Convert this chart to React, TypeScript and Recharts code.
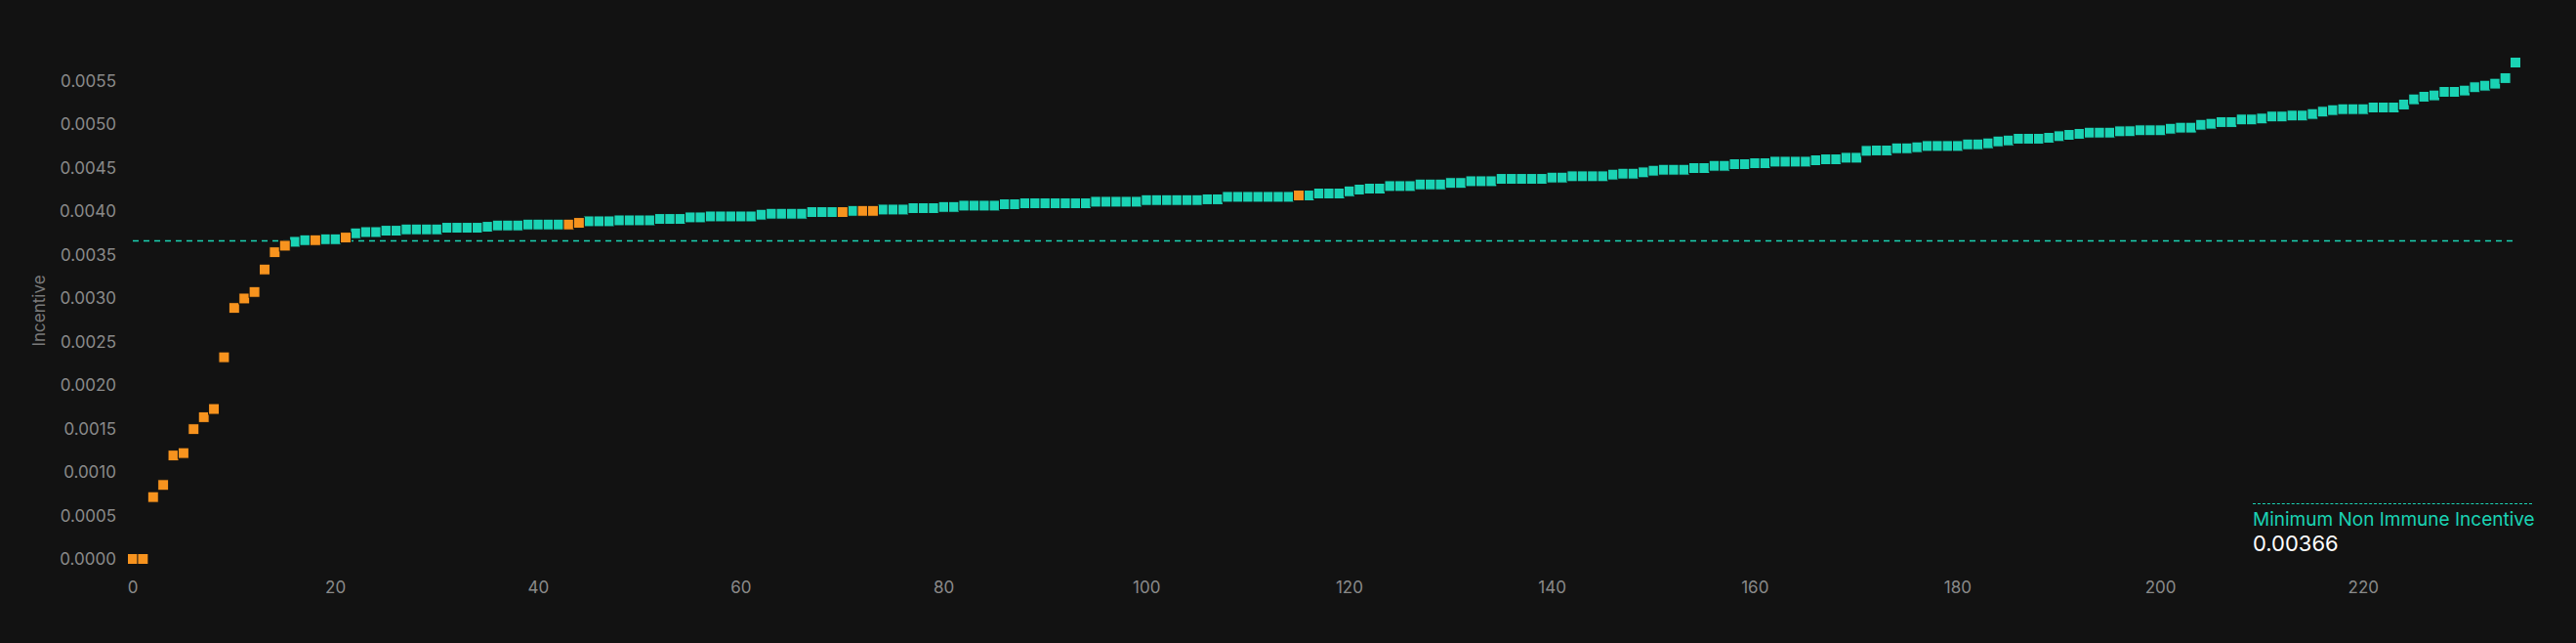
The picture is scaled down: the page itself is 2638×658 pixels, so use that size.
import React from 'react';
import { ScatterChart, Scatter, XAxis, YAxis, ReferenceLine } from 'recharts';

// incentive per validator, sorted ascending
const incentives = [
  0, 0, 0.000712, 0.000851, 0.00119, 0.001218, 0.001493, 0.001631, 0.001725, 0.00232,
  0.002887, 0.002996, 0.003071, 0.00333, 0.003528, 0.003603, 0.003648, 0.003667, 0.003667, 0.003678,
  0.003678, 0.003697, 0.003746, 0.00376, 0.00376, 0.003776, 0.003776, 0.003791, 0.003791, 0.003791,
  0.003791, 0.00381, 0.00381, 0.00381, 0.00381, 0.003821, 0.003836, 0.003836, 0.003836, 0.003847,
  0.003847, 0.003847, 0.003847, 0.003847, 0.003866, 0.003884, 0.003884, 0.003884, 0.003895, 0.003895,
  0.003895, 0.003895, 0.003911, 0.003911, 0.003911, 0.003929, 0.003929, 0.00394, 0.00394, 0.00394,
  0.00394, 0.00394, 0.00396, 0.003971, 0.003971, 0.003971, 0.003971, 0.00399, 0.00399, 0.00399,
  0.00399, 0.004004, 0.004004, 0.004004, 0.004019, 0.004019, 0.004019, 0.004035, 0.004035, 0.004035,
  0.004049, 0.004049, 0.004064, 0.004064, 0.004064, 0.004064, 0.00408, 0.00408, 0.004091, 0.004091,
  0.004091, 0.004091, 0.004091, 0.004091, 0.004091, 0.004109, 0.004109, 0.004109, 0.004109, 0.004109,
  0.004128, 0.004128, 0.004128, 0.004128, 0.004128, 0.004128, 0.004137, 0.004137, 0.004165, 0.004165,
  0.004165, 0.004165, 0.004165, 0.004165, 0.004165, 0.004181, 0.004181, 0.004204, 0.004204, 0.004204,
  0.004229, 0.004249, 0.00426, 0.00426, 0.004289, 0.004289, 0.004289, 0.004308, 0.004308, 0.004308,
  0.004325, 0.004325, 0.004345, 0.004345, 0.004345, 0.004372, 0.004372, 0.004372, 0.004372, 0.004372,
  0.004387, 0.004387, 0.004402, 0.004402, 0.004402, 0.004402, 0.004421, 0.004432, 0.004432, 0.004447,
  0.004466, 0.004477, 0.004477, 0.004477, 0.004496, 0.004496, 0.004522, 0.004522, 0.004541, 0.004541,
  0.004552, 0.004552, 0.00457, 0.00457, 0.00457, 0.00457, 0.004586, 0.004597, 0.004597, 0.004615,
  0.004615, 0.004694, 0.004699, 0.004699, 0.004724, 0.004724, 0.004736, 0.00475, 0.00475, 0.00475,
  0.00475, 0.004769, 0.004769, 0.004781, 0.004803, 0.004814, 0.004834, 0.004834, 0.004834, 0.004845,
  0.004863, 0.004878, 0.00489, 0.004904, 0.004904, 0.004904, 0.004919, 0.00492, 0.004931, 0.004931,
  0.004931, 0.004949, 0.004961, 0.004961, 0.004994, 0.005006, 0.005025, 0.005025, 0.005055, 0.005055,
  0.005066, 0.005089, 0.005089, 0.0051, 0.0051, 0.005118, 0.005145, 0.005163, 0.005174, 0.005174,
  0.005174, 0.005193, 0.005193, 0.005193, 0.005227, 0.005287, 0.005317, 0.005332, 0.005373, 0.005373,
  0.005388, 0.005426, 0.005444, 0.005467, 0.005531, 0.00571,
];

// ranks of the immune validators (drawn orange)
const immuneRanks = [0, 1, 2, 3, 4, 5, 6, 7, 8, 9, 10, 11, 12, 13, 14, 15, 18, 21, 43, 44, 70, 72, 73, 115];

const xTicks = [0, 20, 40, 60, 80, 100, 120, 140, 160, 180, 200, 220];
const yTicks = [0, 0.0005, 0.001, 0.0015, 0.002, 0.0025, 0.003, 0.0035, 0.004, 0.0045, 0.005, 0.0055];

const minNonImmuneIncentive = 0.00366;

const TEAL = '#1ad3b4';
const ORANGE = '#f7931e';
const BG = '#121212';
const FONT = 'Inter, "Noto Sans", sans-serif';

const points = incentives.map((v, i) => ({ rank: i, incentive: v }));
const immune = points.filter((p) => immuneRanks.includes(p.rank));
const nonImmune = points.filter((p) => !immuneRanks.includes(p.rank));

const square = (color: string) => (props: any) => {
  const { cx, cy } = props;
  if (cx == null || cy == null) return <g />;
  return <rect x={cx - 5.5} y={cy - 5.5} width={11} height={11} fill={color} stroke={BG} strokeWidth={1} />;
};

export default function App() {
  return (
    <div style={{ position: 'absolute', left: 0, top: 0, width: 2638, height: 658, background: BG }}>
      <ScatterChart width={2638} height={658} margin={{ top: 64, right: 62, bottom: 56, left: 0 }}>
        <XAxis
          type="number"
          dataKey="rank"
          domain={['dataMin', 'dataMax']}
          ticks={xTicks}
          axisLine={false}
          tickLine={false}
          tickMargin={17}
          tick={{ fill: '#8a8a8a', fontSize: 17, fontFamily: FONT }}
        />
        <YAxis
          type="number"
          dataKey="incentive"
          domain={[0, 'dataMax']}
          ticks={yTicks}
          width={136}
          axisLine={false}
          tickLine={false}
          tickMargin={11}
          tickFormatter={(v: number) => v.toFixed(4)}
          tick={{ fill: '#8a8a8a', fontSize: 17, fontFamily: FONT }}
          label={{
            value: 'Incentive',
            angle: -90,
            position: 'insideLeft',
            offset: 40,
            style: { textAnchor: 'middle', fill: '#7a7a7a', fontSize: 17, fontFamily: FONT },
          }}
        />
        <ReferenceLine y={minNonImmuneIncentive} stroke={TEAL} strokeWidth={1.5} strokeDasharray="6 5" />
        <Scatter data={nonImmune} fill={TEAL} shape={square(TEAL)} isAnimationActive={false} />
        <Scatter data={immune} fill={ORANGE} shape={square(ORANGE)} isAnimationActive={false} />
      </ScatterChart>
      <div style={{ position: 'absolute', left: 2307, top: 515, width: 286, fontFamily: FONT, whiteSpace: 'nowrap' }}>
        <div style={{ borderTop: `1px dashed ${TEAL}`, marginBottom: 4 }} />
        <div style={{ color: TEAL, fontSize: 19, lineHeight: '23px' }}>Minimum Non Immune Incentive</div>
        <div style={{ color: '#ffffff', fontSize: 22, lineHeight: '26px' }}>{minNonImmuneIncentive}</div>
      </div>
    </div>
  );
}
